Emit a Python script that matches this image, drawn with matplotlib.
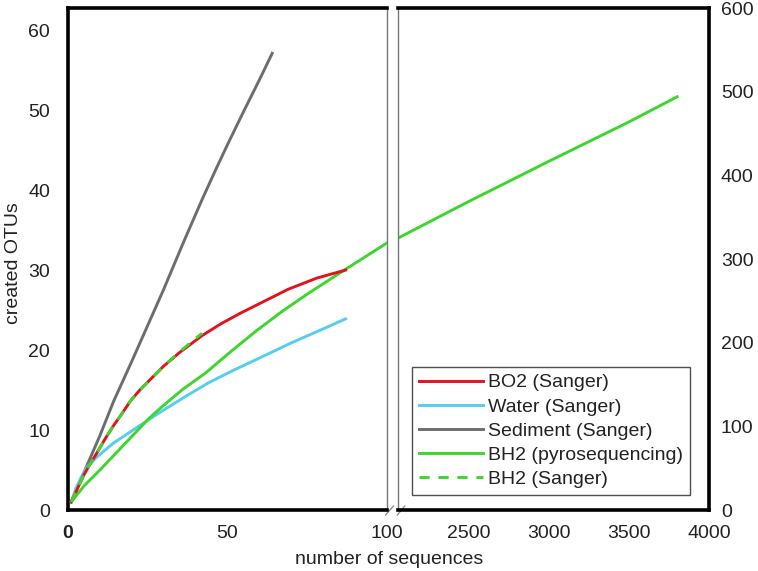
import matplotlib
matplotlib.use('Agg')
import matplotlib.pyplot as plt

plt.rcParams['font.family'] = ['Liberation Sans', 'DejaVu Sans']

# left panel: first 100 sequences (left axis)
bo2_x = [1, 3, 5, 7, 9, 11.5, 14, 17, 19.5, 22.5, 25.5, 30, 35, 42, 48, 54, 60, 69, 78, 87]
bo2_y = [1, 2.7, 4.4, 5.8, 7.1, 8.8, 10.4, 12.1, 13.6, 15.0, 16.2, 18.0, 19.7, 21.8, 23.3, 24.6, 25.8, 27.6, 29.0, 30.0]

water_x = [1, 2.5, 4, 6, 9, 14, 20, 28, 36, 44, 52, 60, 70, 78, 87]
water_y = [1, 2.7, 4.0, 5.4, 6.6, 8.3, 9.9, 12.0, 14.0, 15.9, 17.5, 19.0, 20.9, 22.3, 23.9]

sed_x = [1, 5, 10, 14.3, 20, 25, 30, 36, 42, 46, 50, 55, 60, 64]
sed_y = [1, 4.7, 9.3, 13.6, 18.6, 23.1, 27.6, 33.3, 38.8, 42.3, 45.7, 49.8, 53.8, 57.1]

pyro_x = [1, 5, 10, 15, 20, 25.5, 30, 36, 43, 51, 59, 67, 75, 86.6, 100]
pyro_y = [1, 3.0, 5.0, 7.1, 9.2, 11.5, 13.1, 15.1, 17.1, 19.8, 22.4, 24.8, 27.0, 30.0, 33.4]

bh2s_x = [1, 3, 5, 7, 9, 11.5, 14, 17, 19.5, 22.5, 25.5, 30, 35, 42]
bh2s_y = [1, 2.7, 4.4, 5.8, 7.1, 8.8, 10.4, 12.1, 13.6, 15.0, 16.2, 18.0, 19.8, 22.1]

# right panel: pyrosequencing continued (right axis)
pyro2_x = [2056, 2500, 3000, 3500, 3800]
pyro2_y = [325, 369, 417, 464, 494]

left_ticks = [0, 10, 20, 30, 40, 50, 60]
right_ticks = [0, 100, 200, 300, 400, 500, 600]
x1_ticks = [0, 50, 100]
x2_ticks = [2500, 3000, 3500, 4000]

RED = '#e2121f'
CYAN = '#55cdee'
GRAY = '#6b6e70'
GREEN = '#3ed62e'
TXT = '#222222'
FS = 14

fig = plt.figure(figsize=(7.58, 5.71), dpi=100)
ax1 = fig.add_axes([0.0897, 0.1068, 0.421, 0.879])
ax2 = fig.add_axes([0.525, 0.1068, 0.4105, 0.879])

lw = 2.1
ax1.plot(sed_x, sed_y, color=GRAY, lw=lw, label='Sediment (Sanger)', zorder=2)
ax1.plot(water_x, water_y, color=CYAN, lw=lw, label='Water (Sanger)', zorder=2)
ax1.plot(pyro_x, pyro_y, color=GREEN, lw=lw, label='BH2 (pyrosequencing)', zorder=3)
ax1.plot(bo2_x, bo2_y, color=RED, lw=lw, label='BO2 (Sanger)', zorder=3)
ax1.plot(bh2s_x, bh2s_y, color=GREEN, lw=lw, ls=(0, (3.5, 3)), label='BH2 (Sanger)', zorder=4)
ax2.plot(pyro2_x, pyro2_y, color=GREEN, lw=lw)

ax1.set_xlim(0, 100)
ax1.set_ylim(0, 62.75)
ax2.set_xlim(2056, 4000)
ax2.set_ylim(0, 600)

ax1.set_xticks(x1_ticks)
ax1.set_yticks(left_ticks)
ax2.set_xticks(x2_ticks)
ax2.set_yticks(right_ticks)
ax2.yaxis.tick_right()

for ax in (ax1, ax2):
    ax.tick_params(length=0, labelsize=FS, colors=TXT)
    ax.tick_params(axis='x', pad=11)
    for s in ax.spines.values():
        s.set_linewidth(2.6)
        s.set_color('black')
ax1.tick_params(axis='y', pad=13)
ax2.tick_params(axis='y', pad=8.5)
ax1.get_xticklabels()[0].set_fontweight('bold')

# inner spines at the break are thin and grey
ax1.spines['right'].set_linewidth(1.0)
ax1.spines['right'].set_color('#777777')
ax2.spines['left'].set_linewidth(1.0)
ax2.spines['left'].set_color('#777777')

# break marks
kw = dict(color='#888888', lw=0.9, clip_on=False)
ax1.plot([0.995, 1.02], [-0.01, 0.008], transform=ax1.transAxes, **kw)
ax2.plot([-0.002, 0.022], [-0.01, 0.008], transform=ax2.transAxes, **kw)

handles, labels = ax1.get_legend_handles_labels()
order = ['BO2 (Sanger)', 'Water (Sanger)', 'Sediment (Sanger)', 'BH2 (pyrosequencing)', 'BH2 (Sanger)']
hmap = dict(zip(labels, handles))
leg = fig.legend([hmap[k] for k in order], order, loc='lower left',
                 bbox_to_anchor=(0.5435, 0.133), fontsize=FS, frameon=True,
                 fancybox=False, edgecolor=TXT, borderpad=0.35,
                 labelspacing=0.34, handlelength=3.3, handletextpad=0.25,
                 borderaxespad=0)
leg.get_frame().set_linewidth(1.0)
for t in leg.get_texts():
    t.set_color(TXT)

fig.text(0.513, 0.021, 'number of sequences', ha='center', va='center', fontsize=FS, color=TXT)
fig.text(0.018, 0.54, 'created OTUs', ha='center', va='center', rotation=90, fontsize=FS, color=TXT)

fig.savefig('out.png', dpi=100)
